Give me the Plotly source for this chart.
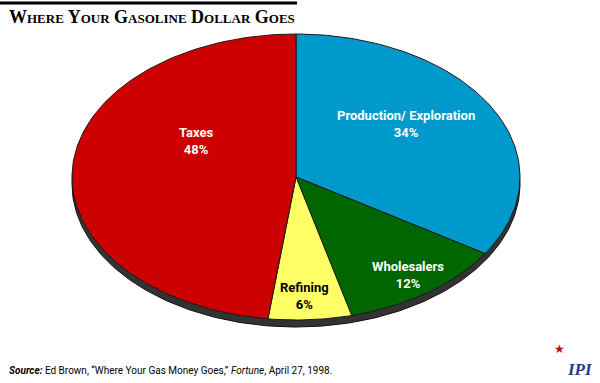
import numpy as np
import plotly.graph_objects as go

# ---- data ----
labels = ["Production/ Exploration", "Wholesalers", "Refining", "Taxes"]
values = [34, 12, 6, 48]
pct_labels = ["34%", "12%", "6%", "48%"]

# ---- styles / positions ----
colors = ["#0099CC", "#006600", "#FFFF66", "#CC0000"]
text_colors = ["white", "white", "black", "white"]
label_pos = [(0.49, 0.37), (0.50, -0.685), (0.04, -0.835), (-0.442, 0.252)]
W, H = 600, 383
CX, CY, RX, RY = 296, 177, 224, 143      # ellipse placement in pixels
DEPTH = 7 / RY                            # 3-D rim thickness (unit coords)
FONT_COND = "Roboto, Liberation Sans Narrow, sans-serif"

fig = go.Figure()

# shadow / rim
t = np.linspace(0, 2 * np.pi, 361)
fig.add_trace(go.Scatter(x=np.sin(t), y=np.cos(t) - DEPTH, mode="lines", fill="toself",
                         fillcolor="#333333", line=dict(color="#111111", width=1),
                         hoverinfo="skip", showlegend=False))

total = float(sum(values))
start = 0.0
for lab, v, c in zip(labels, values, colors):
    end = start + v / total
    n = max(int(360 * (end - start)), 4)
    th = np.linspace(2 * np.pi * start, 2 * np.pi * end, n)
    xs = np.concatenate([[0], np.sin(th), [0]])
    ys = np.concatenate([[0], np.cos(th), [0]])
    fig.add_trace(go.Scatter(x=xs, y=ys, mode="lines", fill="toself", fillcolor=c,
                             line=dict(color="#1a1a1a", width=1), name=lab,
                             hoverinfo="name", showlegend=False))
    start = end

for lab, p, (lx, ly), tc in zip(labels, pct_labels, label_pos, text_colors):
    fig.add_annotation(x=lx, y=ly, xref="x", yref="y", showarrow=False,
                       text=f"<b>{lab}</b><br><b>{p}</b>", align="center",
                       font=dict(family=FONT_COND, size=13, color=tc))

# x/y ranges so that unit ellipse maps to the pixel ellipse
xr = [(0 - CX) / RX, (W - CX) / RX]
yr = [(CY - H) / RY, (CY - 0) / RY]

fig.update_layout(
    width=W, height=H, margin=dict(l=0, r=0, t=0, b=0),
    paper_bgcolor="white", plot_bgcolor="white",
    xaxis=dict(range=xr, visible=False, fixedrange=True),
    yaxis=dict(range=yr, visible=False, fixedrange=True),
    showlegend=False,
)

# title with rule above
fig.add_shape(type="line", xref="paper", yref="paper", x0=0, x1=297 / W,
              y0=1 - 3 / H, y1=1 - 3 / H, line=dict(color="black", width=3))
fig.add_annotation(x=7 / W, y=1 - 17 / H, xref="paper", yref="paper", showarrow=False,
                   xanchor="left", yanchor="middle",
                   text="<b>Where Your Gasoline Dollar Goes</b>",
                   font=dict(family="Liberation Serif, DejaVu Serif, serif", size=18,
                             color="black", variant="small-caps"))

# source
fig.add_annotation(x=7 / W, y=1 - 370 / H, xref="paper", yref="paper", showarrow=False,
                   xanchor="left", yanchor="middle",
                   text="<b><i>Source:</i></b> Ed Brown, \u201cWhere Your Gas Money Goes,\u201d <i>Fortune</i>, April 27, 1998.",
                   font=dict(family=FONT_COND, size=10, color="black"))

# logo text
fig.add_annotation(x=580 / W, y=1 - 369 / H, xref="paper", yref="paper", showarrow=False,
                   xanchor="center", yanchor="middle",
                   text="<b><i>IPI</i></b>",
                   font=dict(family="Liberation Serif, DejaVu Serif, serif", size=17, color="#1f3c88"))
fig.add_annotation(x=567 / W, y=1 - 359 / H, xref="paper", yref="paper", showarrow=False,
                   text="\u2605", font=dict(size=12, color="#cc0000"))

fig.write_html("out.html", config={"displayModeBar": False},
               post_script="document.body.style.margin='0px';document.body.style.overflow='hidden';")
